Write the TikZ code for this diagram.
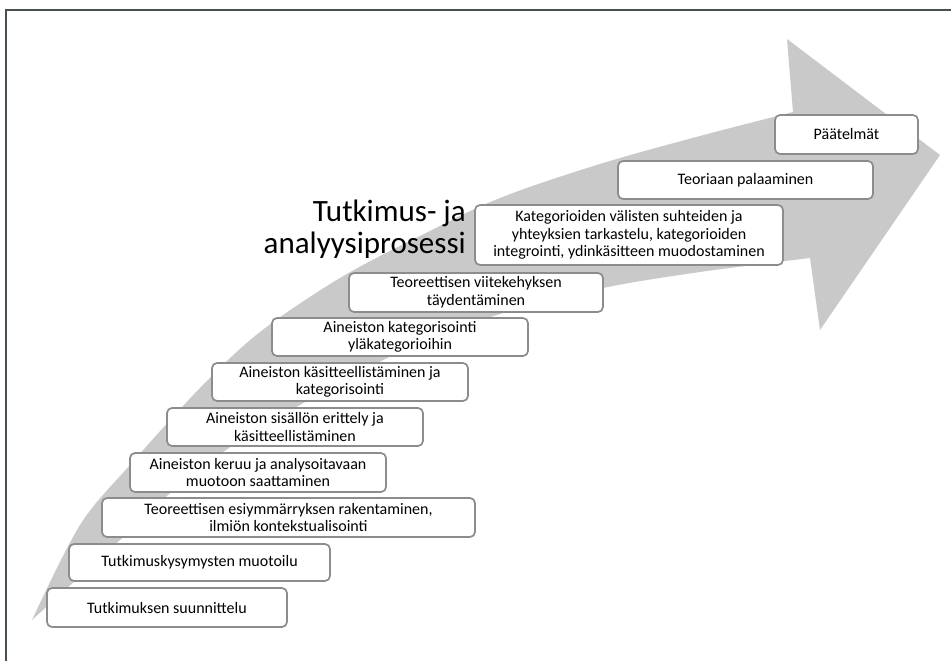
\documentclass[tikz,border=0pt]{standalone}
\usepackage{fontspec}
\setmainfont{Carlito}
\definecolor{framecol}{RGB}{70,80,78}
\definecolor{arrowgray}{RGB}{201,201,201}
\definecolor{boxline}{RGB}{140,140,140}
\tikzset{
  stepbox/.style={draw=boxline, line width=1.7pt, fill=white, rounded corners=5pt,
    align=center, inner sep=1pt, font=\fontsize{16}{17.6}\selectfont, text=black},
}
\begin{document}
\begin{tikzpicture}[x=1pt,y=-1pt]
\useasboundingbox (0,0) rectangle (951,661);
\fill[white] (0,0) rectangle (951,661);
% frame
\draw[framecol, line width=1.5pt] (6,661) -- (6,10) -- (951,10);
% big arrow
\fill[arrowgray]
  plot[smooth, tension=0.55] coordinates {(32,620) (80,525) (130,465) (200,388) (260,332) (340,278) (420,236) (500,198) (600,164) (700,136) (793,112)}
  -- (787,39) -- (940,155) -- (820,330) -- (810,258)
  -- plot[smooth, tension=0.55] coordinates {(810,258) (700,272) (603,288) (500,314) (400,352) (300,405) (200,468) (120,540) (32,620)}
  -- cycle;
% title
\node[anchor=north east, inner sep=0pt, align=right, font=\fontsize{31}{32}\selectfont] (title) at (466,200)
  {Tutkimus- ja\\analyysiprosessi};
% steps
\node[stepbox, minimum width=240pt, minimum height=39pt] (b1) at (167,607.5) {Tutkimuksen suunnittelu};
\node[stepbox, minimum width=261pt, minimum height=37pt] (b2) at (199.5,562.5) {Tutkimuskysymysten muotoilu};
\node[stepbox, minimum width=373pt, minimum height=39pt] (b3) at (288.5,517.5) {Teoreettisen esiymmärryksen rakentaminen,\\ilmiön kontekstualisointi};
\node[stepbox, minimum width=256pt, minimum height=39pt] (b4) at (258,472.5) {Aineiston keruu ja analysoitavaan\\muotoon saattaminen};
\node[stepbox, minimum width=256pt, minimum height=38pt] (b5) at (295,427) {Aineiston sisällön erittely ja\\käsitteellistäminen};
\node[stepbox, minimum width=256pt, minimum height=38pt] (b6) at (340,382) {Aineiston käsitteellistäminen ja\\kategorisointi};
\node[stepbox, minimum width=256pt, minimum height=38pt] (b7) at (400,337) {Aineiston kategorisointi\\yläkategorioihin};
\node[stepbox, minimum width=254pt, minimum height=39pt] (b8) at (476,292.5) {Teoreettisen viitekehyksen\\täydentäminen};
\node[stepbox, minimum width=308pt, minimum height=60pt] (b9) at (629,235) {Kategorioiden välisten suhteiden ja\\yhteyksien tarkastelu, kategorioiden\\integrointi, ydinkäsitteen muodostaminen};
\node[stepbox, minimum width=255pt, minimum height=38pt] (b10) at (745.5,180) {Teoriaan palaaminen};
\node[stepbox, minimum width=143pt, minimum height=39pt] (b11) at (846.5,134.5) {Päätelmät};
\end{tikzpicture}
\end{document}
